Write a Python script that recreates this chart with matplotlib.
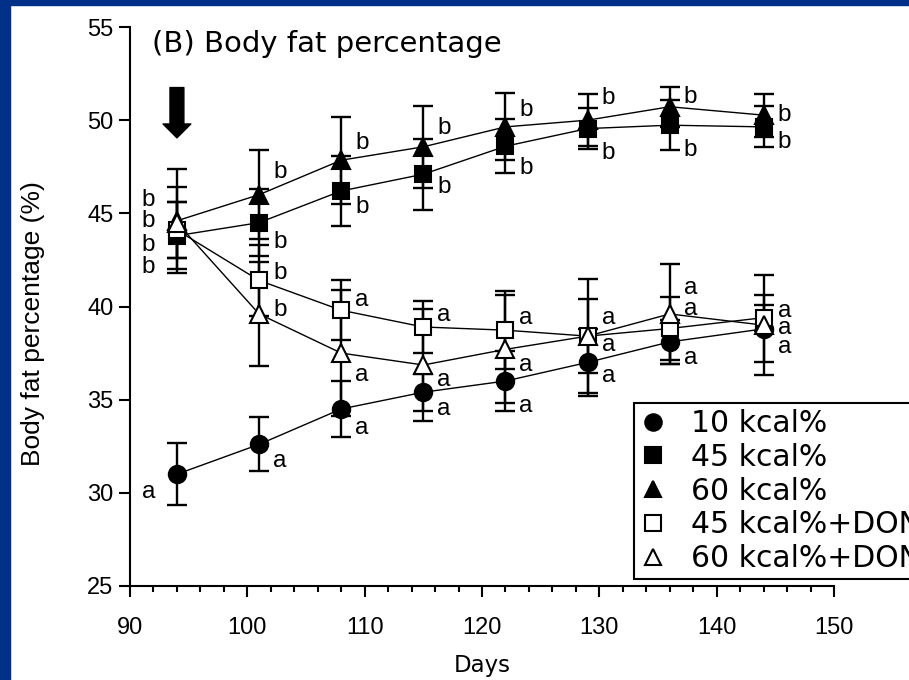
import matplotlib
matplotlib.use('Agg')
import matplotlib.pyplot as plt
from matplotlib.lines import Line2D
from matplotlib.patches import Rectangle

plt.rcParams['font.family'] = ['Liberation Sans', 'DejaVu Sans']
WIDE = ['DejaVu Sans']  # the slide text is stretched, a wider face fits it better

# Days of measurement
days = [94, 101, 108, 115, 122, 129, 136, 144]

# Body fat percentage (mean and error) for each diet group
kcal10 = [31.0, 32.6, 34.5, 35.4, 36.0, 37.0, 38.1, 38.8]
kcal10_err = [1.65, 1.45, 1.5, 1.0, 1.6, 1.8, 1.2, 1.8]
kcal45 = [43.8, 44.5, 46.2, 47.1, 48.6, 49.55, 49.73, 49.64]
kcal45_err = [1.8, 1.8, 1.9, 1.9, 1.45, 1.1, 1.34, 1.1]
kcal60 = [44.6, 46.0, 47.85, 48.57, 49.64, 50.0, 50.72, 50.27]
kcal60_err = [2.8, 2.4, 2.33, 2.2, 1.8, 1.4, 1.07, 1.16]
don45 = [44.1, 41.4, 39.8, 38.9, 38.73, 38.41, 38.82, 39.4]
don45_err = [1.5, 1.9, 1.6, 1.4, 2.1, 2.0, 1.7, 0.7]
don60 = [44.5, 39.6, 37.5, 36.86, 37.7, 38.41, 39.6, 39.0]
don60_err = [1.9, 2.8, 3.4, 3.0, 2.9, 3.05, 2.7, 2.7]

# Significance letters
sig10 = ['a', 'a', 'a', 'a', 'a', 'a', 'a', 'a']
sig45 = ['b', 'b', 'b', 'b', 'b', 'b', 'b', 'b']
sig60 = ['b', 'b', 'b', 'b', 'b', 'b', 'b', 'b']
sigdon45 = ['b', 'b', 'a', 'a', 'a', 'a', 'a', 'a']
sigdon60 = ['b', 'b', 'a', 'a', 'a', 'a', 'a', 'a']

names = ['10 kcal%', '45 kcal%', '60 kcal%', '45 kcal%+DON', '60 kcal%+DON']

PX = 72 / 100  # pixels -> points

# (values, errors, letters, marker, face, letter vertical offsets in px, downwards)
series = [
    (kcal10, kcal10_err, sig10, 'o', 'black', [18, 17, 19, 17, 25, 14, 16, 18]),
    (kcal45, kcal45_err, sig45, 's', 'black', [31, 19, 16, 13, 22, 24, 25, 15]),
    (kcal60, kcal60_err, sig60, '^', 'black', [-21, -23, -17, -19, -17, -22, -10, 0]),
    (don45, don45_err, sigdon45, 's', 'white', [15, -7, -10, -12, -12, -18, -19, -7]),
    (don60, don60_err, sigdon60, '^', 'white', [-2, -4, 22, 15, 16, 9, -26, 3]),
]
msize = {'o': 12.5, 's': 12, '^': 12.5}

fig = plt.figure(figsize=(9.09, 6.8), dpi=100)
fig.patch.set_facecolor('white')
# blue slide border on the left and top
fig.patches.append(Rectangle((0, 0), 10 / 909, 1, transform=fig.transFigure, color='#003087', zorder=0))
fig.patches.append(Rectangle((0, 1 - 5 / 680), 1, 5 / 680, transform=fig.transFigure, color='#003087', zorder=0))

ax = fig.add_axes([130 / 909, 94 / 680, 704 / 909, 559 / 680])

for vals, errs, letters, mk, face, offs in series:
    ax.plot(days, vals, color='black', lw=1.0, zorder=2)
    ax.errorbar(days, vals, yerr=errs, fmt='none', ecolor='black', elinewidth=1.7,
                capsize=7, capthick=1.7, zorder=3)
    ax.plot(days, vals, ls='none', marker=mk, ms=msize[mk], mfc=face, mec='black',
            mew=1.5, zorder=4)
    for i, (d, v, s) in enumerate(zip(days, vals, letters)):
        if i == 0:
            ax.annotate(s, (d, v), xytext=(-22 * PX, -offs[i] * PX), textcoords='offset points',
                        ha='right', va='center', fontsize=17.5, zorder=5)
        else:
            ax.annotate(s, (d, v), xytext=(14 * PX, -offs[i] * PX), textcoords='offset points',
                        ha='left', va='center', fontsize=17.5, zorder=5)

# arrow marking start of treatment
ax.annotate('', xy=(94, 49.05), xytext=(94, 51.75),
            arrowprops=dict(width=10, headwidth=20, headlength=10, shrink=0, fc='black', ec='black'))

ax.set_xlim(90, 150)
ax.set_ylim(25, 55)
ax.set_xticks(range(90, 151, 10))
ax.set_xticks(range(90, 151, 2), minor=True)
ax.set_yticks(range(25, 56, 5))
ax.spines['top'].set_visible(False)
ax.spines['right'].set_visible(False)
ax.spines['left'].set_linewidth(1.5)
ax.spines['bottom'].set_linewidth(1.5)
ax.tick_params(axis='both', which='major', length=8, width=1.5, labelsize=17)
ax.tick_params(axis='x', which='major', pad=14)
ax.tick_params(axis='y', which='major', pad=4)
ax.tick_params(axis='x', which='minor', length=4, width=1.5)

ax.set_xlabel('Days', fontsize=16.5, family=WIDE)
ax.xaxis.set_label_coords(0.501, -0.122)
ax.set_ylabel('Body fat percentage (%)', fontsize=19)
ax.yaxis.set_label_coords(-0.121, 0.47)

ax.text(0.031, 0.9696, '(B) Body fat percentage', transform=ax.transAxes,
        ha='left', va='center', fontsize=21, family=WIDE)

handles = []
for vals, errs, letters, mk, face, offs in series:
    handles.append(Line2D([], [], ls='none', marker=mk, ms=msize[mk] * 0.95, mfc=face,
                          mec='black', mew=1.5))
# the legend runs past the right edge of the slide, as in the original
leg = fig.legend(handles, names, loc='upper left', bbox_to_anchor=(634 / 909, 1 - 403 / 680),
                 prop={'family': WIDE, 'size': 21.5}, frameon=True, fancybox=False,
                 edgecolor='black', framealpha=1, borderaxespad=0, borderpad=0.2,
                 labelspacing=0.16, handlelength=0.9, handletextpad=0.8)
leg.get_frame().set_linewidth(1.5)

fig.savefig('out.png', dpi=100)
